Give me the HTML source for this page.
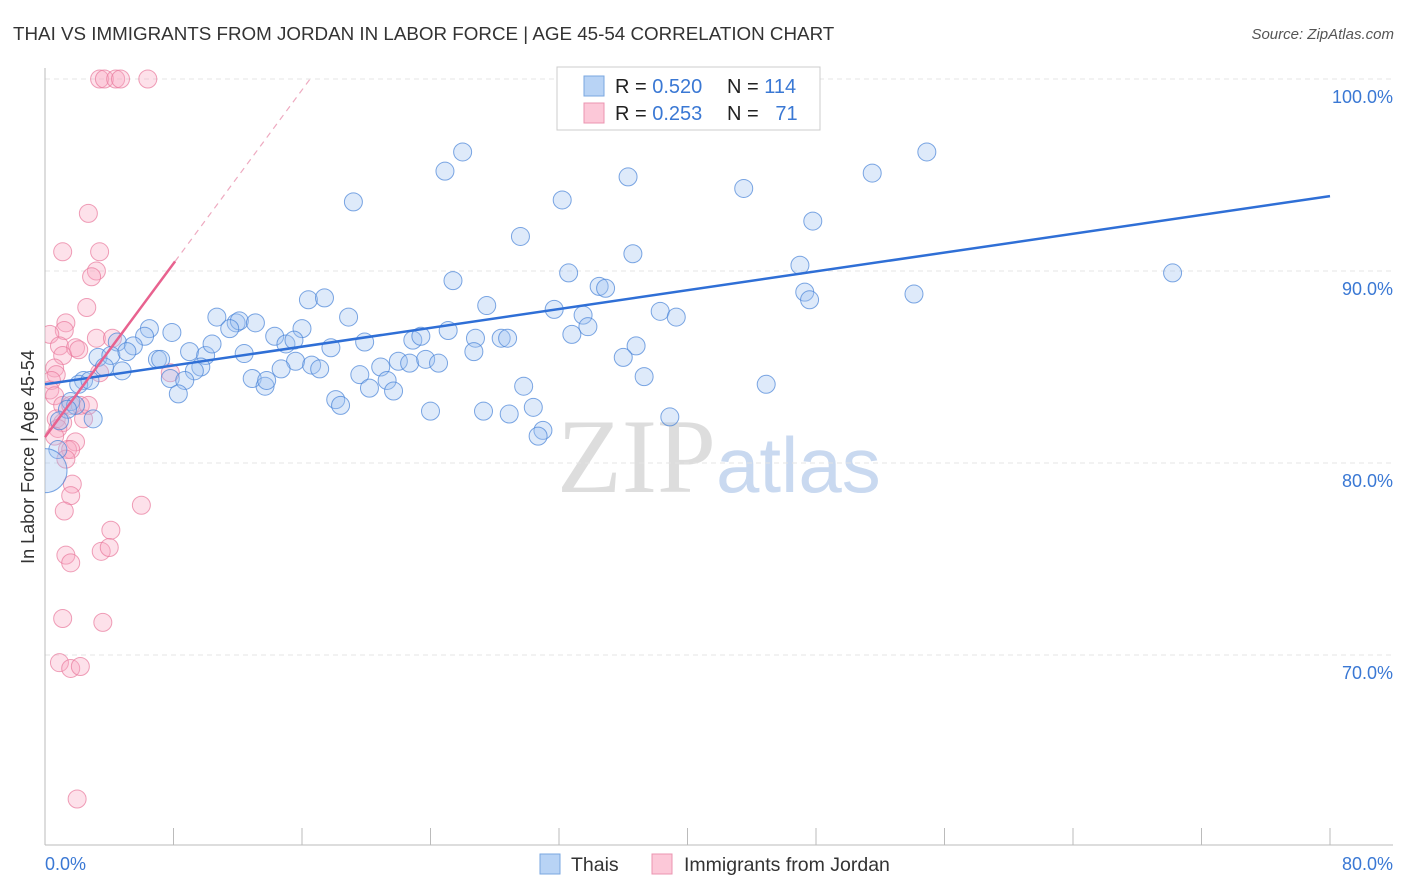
<!DOCTYPE html>
<html><head><meta charset="utf-8"><style>
body{margin:0;background:#fff;font-family:"Liberation Sans",sans-serif}
svg{display:block}
</style></head><body>
<svg id="c" width="1406" height="892">
<defs><clipPath id="plot"><rect x="45" y="60" width="1360" height="785"/></clipPath></defs>
<text x="13" y="40" font-size="18.8" fill="#333">THAI VS IMMIGRANTS FROM JORDAN IN LABOR FORCE | AGE 45-54 CORRELATION CHART</text>
<text x="1394" y="39" font-size="15" fill="#555" font-style="italic" text-anchor="end">Source: ZipAtlas.com</text>
<text x="716" y="492" font-size="106" fill="#ddd" text-anchor="end" font-family="Liberation Serif">ZIP</text>
<text x="716" y="492" font-size="78" fill="#c9d9f0">atlas</text>
<text transform="translate(34,457) rotate(-90)" font-size="18" fill="#333" text-anchor="middle">In Labor Force | Age 45-54</text>
<g id="grid"></g><g id="pts" clip-path="url(#plot)"></g><g id="lines"></g>
<g>
<rect x="557" y="67" width="263" height="63" fill="#fff" stroke="#ccc"/>
<rect x="584" y="76" width="20" height="20" fill="#b8d3f5" stroke="#7aa7e0"/>
<rect x="584" y="103" width="20" height="20" fill="#fcc8d8" stroke="#eb94b0"/>
<text x="615" y="93" font-size="20" fill="#222">R = <tspan fill="#3a78d4">0.520</tspan></text>
<text x="727" y="93" font-size="20" fill="#222">N = <tspan fill="#3a78d4">114</tspan></text>
<text x="615" y="120" font-size="20" fill="#222">R = <tspan fill="#3a78d4"> 0.253</tspan></text>
<text x="727" y="120" font-size="20" fill="#222">N = <tspan fill="#3a78d4" xml:space="preserve">  71</tspan></text>
</g>
<g>
<rect x="540" y="854" width="20" height="20" fill="#b8d3f5" stroke="#7aa7e0"/>
<text x="571" y="871" font-size="19.5" fill="#333">Thais</text>
<rect x="652" y="854" width="20" height="20" fill="#fcc8d8" stroke="#eb94b0"/>
<text x="684" y="871" font-size="19.5" fill="#333">Immigrants from Jordan</text>
</g>
</svg>
<script>
const yTicks=[70,80,90,100];
const xTickLabels=["0.0%","80.0%"];
const blueX=[26.0,24.9,19.2,32.2,36.3,43.5,51.5,54.9,47.8,29.6,36.6,32.6,25.4,47.0,70.2,34.5,34.9,47.3,47.6,54.1,27.5,16.4,17.4,18.9,31.7,33.5,33.8,32.8,38.3,39.3,10.7,11.9,12.1,13.1,11.5,16.0,6.5,7.9,6.2,4.5,5.5,3.3,4.1,5.1,14.3,15.0,15.5,17.8,19.9,22.9,23.4,25.1,26.8,28.4,28.8,26.7,36.8,36.0,37.3,9.0,10.0,10.4,12.4,7.0,7.2,9.7,9.3,15.6,14.7,16.6,17.1,20.9,22.0,22.7,23.7,24.5,19.6,21.3,20.2,21.7,12.9,13.7,13.8,7.8,8.7,8.3,3.7,4.8,2.4,2.1,2.8,29.8,18.1,18.4,24.0,27.3,28.9,30.4,31.0,30.7,38.9,44.9,3.0,1.6,1.9,1.4,0.9,0.8,0,41.6];
const blueY=[96.2,95.2,93.6,93.7,94.9,94.3,95.1,96.2,92.6,91.8,90.9,89.9,89.5,90.3,89.9,89.2,89.1,88.9,88.5,88.8,88.2,88.5,88.6,87.6,88.0,87.7,87.1,86.7,87.9,87.6,87.6,87.3,87.4,87.3,87.0,87.0,87.0,86.8,86.6,86.3,86.1,85.5,85.6,85.8,86.6,86.2,86.4,86.0,86.3,86.4,86.6,86.9,86.5,86.5,86.5,85.8,86.1,85.5,84.5,85.8,85.6,86.2,85.7,85.4,85.4,85.0,84.8,85.3,84.9,85.1,84.9,85.0,85.3,85.2,85.4,85.2,84.6,84.3,83.9,83.75,84.4,84.0,84.3,84.4,84.3,83.6,85.0,84.8,84.3,84.1,84.3,84.0,83.3,83.0,82.7,82.7,82.55,82.9,81.7,81.4,82.4,84.1,82.3,83.2,83.0,82.8,82.2,80.7,79.6,100.0];
const blueSize=blueX.map((v,i)=>i===108?22:9);
const pinkX=[3.4,3.7,4.4,4.7,6.4,2.7,1.1,3.4,3.2,2.9,2.6,1.3,1.2,0.3,3.2,0.9,1.9,1.1,2.1,0.6,0.7,0.4,0.3,0.6,1.1,1.6,2.2,2.4,0.7,1.1,0.8,0.6,1.9,1.4,1.6,1.3,1.7,1.6,1.2,6.0,4.1,1.3,1.6,3.5,4.0,1.1,3.6,0.9,1.6,2.2,2.0,7.8,4.2,3.4,2.7];
const pinkY=[100,100,100,100,100,93.0,91.0,91.0,90.0,89.7,88.1,87.3,86.9,86.7,86.5,86.1,86.0,85.6,85.9,84.95,84.6,84.3,83.8,83.5,83.0,83.0,83.0,82.3,82.3,82.1,81.8,81.4,81.1,80.7,80.7,80.2,78.9,78.3,77.5,77.8,76.5,75.2,74.8,75.4,75.6,71.9,71.7,69.6,69.3,69.4,62.5,84.7,86.5,84.7,83.0];
const blueTrend=[84.1,93.9]; // y at x=0, x=80
const pinkTrend=[81.35,1.13]; // intercept, slope
const NS='http://www.w3.org/2000/svg';
const X=v=>45+v/80*1285, Y=v=>79+(100-v)*19.2;
function mk(t,a,p){const e=document.createElementNS(NS,t);for(const k in a)e.setAttribute(k,a[k]);p.appendChild(e);return e;}
const g=document.getElementById('grid');
yTicks.forEach(t=>{
 const l=mk('line',{x1:45,x2:1393,y1:Y(t),y2:Y(t),stroke:'#e4e4e4','stroke-dasharray':'5,4'},g);
 
 
 const tx=mk('text',{x:1393,y:Y(t)+24,'font-size':18,fill:'#3a78d4','text-anchor':'end'},g);
 tx.textContent=t.toFixed(1)+'%';
 
 
});
mk('line',{x1:45,x2:45,y1:68,y2:845,stroke:'#bbb'},g);
mk('line',{x1:45,x2:1393,y1:845,y2:845,stroke:'#bbb'},g);
for(let i=0;i<=10;i++){const t=mk('line',{x1:X(i*8),x2:X(i*8),y1:828,y2:845,stroke:'#bbb'},g);}
[[0,45,'start'],[80,1393,'end']].forEach((d,i)=>{const t=mk('text',{x:d[1],y:870,'font-size':18,fill:'#3a78d4','text-anchor':d[2]},g);t.textContent=xTickLabels[i];});
const p=document.getElementById('pts');
pinkX.forEach((v,i)=>{const c=mk('circle',{cx:X(v),cy:Y(pinkY[i]),r:9,fill:'rgba(248,170,195,0.35)',stroke:'rgba(232,120,155,0.7)','stroke-width':1},p);
 
 });
blueX.forEach((v,i)=>{const c=mk('circle',{cx:X(v),cy:Y(blueY[i]),r:blueSize[i],fill:'rgba(160,195,240,0.35)',stroke:'rgba(70,130,215,0.7)','stroke-width':1},p);
 
 });
const L=document.getElementById('lines');
const bl=mk('line',{x1:X(0),y1:Y(blueTrend[0]),x2:X(80),y2:Y(blueTrend[1]),stroke:'#2f6fd6','stroke-width':2.5},L);


const pe=8.1, pd=(100-pinkTrend[0])/pinkTrend[1];
const pl=mk('line',{x1:X(0),y1:Y(pinkTrend[0]),x2:X(pe),y2:Y(pinkTrend[0]+pinkTrend[1]*pe),stroke:'#e8628f','stroke-width':2.5},L);


const pdl=mk('line',{x1:X(pe),y1:Y(pinkTrend[0]+pinkTrend[1]*pe),x2:X(pd),y2:Y(100),stroke:'#eeaac0','stroke-width':1.2,'stroke-dasharray':'6,5'},L);


</script>
</body></html>
